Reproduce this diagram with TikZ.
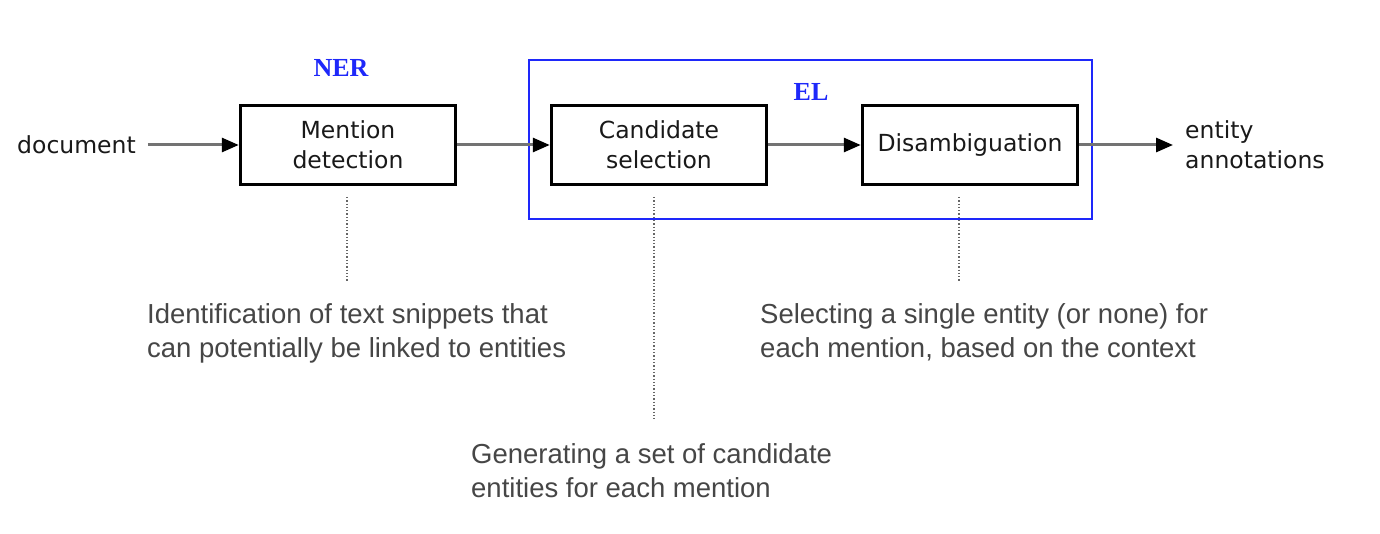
\documentclass[tikz,border=0pt]{standalone}
\usepackage{fontspec}
\setmainfont{DejaVu Sans}
\newfontfamily\descfont{Liberation Sans}
\newfontfamily\labfont{Liberation Serif}
\usetikzlibrary{arrows.meta}
\definecolor{elblue}{RGB}{30,40,250}
\definecolor{desccol}{RGB}{70,70,70}
\tikzset{
  stagebox/.style={draw=black, line width=3.5pt, minimum width=215pt, minimum height=79pt,
    align=center, font=\fontsize{23.5}{30}\selectfont, text=black!90, inner sep=0pt},
  flow/.style={draw=black!55, line width=3pt, -{Triangle[length=17pt,width=14pt,color=black]}},
  note/.style={anchor=north west, align=left, inner sep=0pt, text=desccol,
    font=\descfont\fontsize{27.5}{34}\selectfont},
  hint/.style={draw=black!60, line width=1.3pt, dotted},
  grouplab/.style={text=elblue, font=\labfont\bfseries\fontsize{26}{30}\selectfont, inner sep=0pt},
  plainlab/.style={inner sep=0pt, align=left, text=black!90, font=\fontsize{23.5}{30}\selectfont}
}
\begin{document}
\begin{tikzpicture}[x=1pt,y=-1pt]
\useasboundingbox (0,0) rectangle (1380,534);
\fill[white] (0,0) rectangle (1380,534);
% group box
\draw[elblue, line width=1.5pt] (529,60) rectangle (1092,219);
\node[grouplab] (ner) at (341,68) {NER};
\node[grouplab] (el) at (811,92) {EL};
% stages
\node[stagebox] (men) at (348,145) {Mention\\detection};
\node[stagebox] (cand) at (659,145) {Candidate\\selection};
\node[stagebox] (dis) at (970,145) {Disambiguation};
\node[plainlab, anchor=west] (doc) at (17,145) {document};
\node[plainlab, anchor=west] (ent) at (1185,145) {entity\\annotations};
% flows
\draw[flow, shorten <=12pt] (doc.east) -- (men.west);
\draw[flow] (men.east) -- (cand.west);
\draw[flow] (cand.east) -- (dis.west);
\draw[flow, shorten >=12pt] (dis.east) -- (ent.west);
% dotted hints
\coordinate (h1a) at (347,197); \coordinate (h1b) at (347,282);
\coordinate (h2a) at (654,197); \coordinate (h2b) at (654,420);
\coordinate (h3a) at (959,197); \coordinate (h3b) at (959,282);
\draw[hint] (h1a) -- (h1b);
\draw[hint] (h2a) -- (h2b);
\draw[hint] (h3a) -- (h3b);
% notes
\node[note] (n1) at (147,303) {Identification of text snippets that\\can potentially be linked to entities};
\node[note] (n2) at (471,443) {Generating a set of candidate\\entities for each mention};
\node[note] (n3) at (760,303) {Selecting a single entity (or none) for\\each mention, based on the context};
\end{tikzpicture}
\end{document}
